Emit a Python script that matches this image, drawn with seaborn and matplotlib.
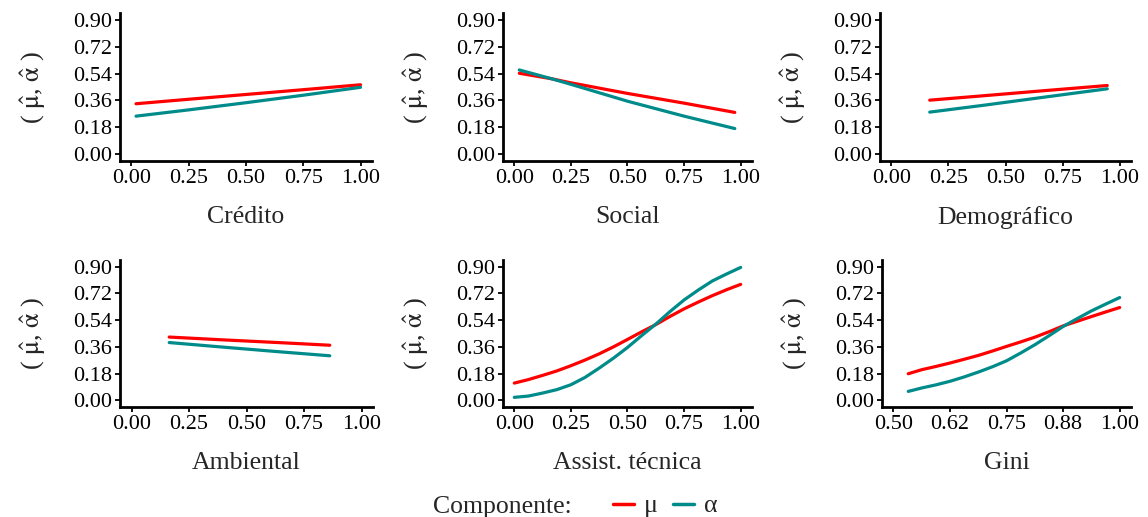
import numpy as np
import pandas as pd
import matplotlib
matplotlib.use("Agg")
import matplotlib.pyplot as plt
import seaborn as sns
from matplotlib.lines import Line2D

# ---- data ----
credito_x = [0.02, 0.25, 0.50, 0.75, 1.00]
credito_mu = [0.338, 0.368, 0.400, 0.432, 0.465]
credito_alpha = [0.255, 0.297, 0.345, 0.395, 0.448]

social_x = [0.022, 0.165, 0.25, 0.50, 0.75, 0.974]
social_mu = [0.542, 0.505, 0.478, 0.407, 0.342, 0.280]
social_alpha = [0.564, 0.505, 0.468, 0.355, 0.255, 0.172]

demog_x = [0.168, 0.40, 0.65, 0.946]
demog_mu = [0.362, 0.391, 0.423, 0.460]
demog_alpha = [0.282, 0.327, 0.378, 0.438]

amb_x = [0.164, 0.40, 0.65, 0.862]
amb_mu = [0.426, 0.407, 0.388, 0.371]
amb_alpha = [0.389, 0.358, 0.326, 0.300]

assist_x = [0.0, 0.063, 0.125, 0.188, 0.25, 0.312, 0.375, 0.438, 0.5,
            0.561, 0.625, 0.688, 0.75, 0.813, 0.875, 0.938, 1.0]
assist_mu = [0.116, 0.140, 0.168, 0.198, 0.233, 0.271, 0.313, 0.360, 0.410,
             0.460, 0.510, 0.565, 0.616, 0.662, 0.705, 0.745, 0.781]
assist_alpha = [0.020, 0.029, 0.049, 0.072, 0.105, 0.154, 0.217, 0.284, 0.356,
                0.434, 0.513, 0.598, 0.676, 0.743, 0.804, 0.851, 0.895]

gini_x = [0.533, 0.5625, 0.594, 0.625, 0.656, 0.6875, 0.719, 0.75,
          0.781, 0.8125, 0.844, 0.875, 0.906, 0.9375, 0.969, 1.0]
gini_mu = [0.179, 0.206, 0.228, 0.251, 0.276, 0.302, 0.332, 0.363,
           0.393, 0.425, 0.462, 0.501, 0.532, 0.564, 0.595, 0.625]
gini_alpha = [0.060, 0.083, 0.104, 0.128, 0.157, 0.190, 0.226, 0.266,
              0.318, 0.374, 0.435, 0.497, 0.550, 0.602, 0.648, 0.692]

panel_names = ["Crédito", "Social", "Demográfico", "Ambiental", "Assist. técnica", "Gini"]
panel_x = [credito_x, social_x, demog_x, amb_x, assist_x, gini_x]
panel_mu = [credito_mu, social_mu, demog_mu, amb_mu, assist_mu, gini_mu]
panel_alpha = [credito_alpha, social_alpha, demog_alpha, amb_alpha, assist_alpha, gini_alpha]

y_ticks = [0.00, 0.18, 0.36, 0.54, 0.72, 0.90]
y_ticklabels = ["0.00", "0.18", "0.36", "0.54", "0.72", "0.90"]
x_ticks = [0.00, 0.25, 0.50, 0.75, 1.00]
x_ticklabels = ["0.00", "0.25", "0.50", "0.75", "1.00"]
gini_ticks = [0.50, 0.625, 0.75, 0.875, 1.00]
gini_ticklabels = ["0.50", "0.62", "0.75", "0.88", "1.00"]

comp_labels = ["μ", "α"]
palette = {"μ": "#FF0000", "α": "#008B8B"}

# ---- style ----
sns.set_theme(style="ticks")
plt.rcParams["font.family"] = ["Liberation Serif", "DejaVu Serif"]
plt.rcParams["mathtext.fontset"] = "stix"

W, H = 1148, 517
fig = plt.figure(figsize=(W / 100, H / 100), dpi=100)

# axes boxes in pixels: (left, top, right, bottom)
boxes = [
    (120, 13, 372, 161), (503, 13, 752, 161), (880, 13, 1131, 161),
    (120, 260, 373, 407), (503, 260, 752, 407), (882, 260, 1131, 407),
]

TICK_FS = 16
LAB_FS = 18.5

for i, name in enumerate(panel_names):
    l, t, r, b = boxes[i]
    ax = fig.add_axes([l / W, 1 - b / H, (r - l) / W, (b - t) / H])
    n = len(panel_x[i])
    df = pd.DataFrame({
        "x": list(panel_x[i]) * 2,
        "y": list(panel_mu[i]) + list(panel_alpha[i]),
        "Componente": [comp_labels[0]] * n + [comp_labels[1]] * n,
    })
    sns.lineplot(data=df, x="x", y="y", hue="Componente", palette=palette,
                 hue_order=comp_labels, linewidth=2.3, legend=False, ax=ax)
    if name == "Gini":
        ax.set_xlim(0.475, 1.025)
        ax.set_xticks(gini_ticks)
        ax.set_xticklabels(gini_ticklabels)
    else:
        ax.set_xlim(-0.05, 1.05)
        ax.set_xticks(x_ticks)
        ax.set_xticklabels(x_ticklabels)
    ax.set_ylim(-0.045, 0.945)
    ax.set_yticks(y_ticks)
    ax.set_yticklabels(y_ticklabels)
    ax.set_xlabel(name, fontsize=LAB_FS, labelpad=13)
    ax.set_ylabel(r"( $\hat{\mathrm{\mu}}$, $\hat{\mathrm{\alpha}}$ )",
                  fontsize=19, labelpad=18)
    ax.tick_params(axis="both", labelsize=TICK_FS, length=3.5, width=1.3,
                   color="black", labelcolor="black", pad=2)
    for s in ["top", "right"]:
        ax.spines[s].set_visible(False)
    for s in ["left", "bottom"]:
        ax.spines[s].set_linewidth(2.0)
        ax.spines[s].set_color("black")
    ax.set_facecolor("white")
    ax.grid(False)

# legend
fig.text(433 / W, 1 - 507 / H, "Componente:", fontsize=LAB_FS, va="center", ha="left")
handles = [Line2D([0], [0], color=palette[c], lw=2.5) for c in comp_labels]
fig.legend(handles, comp_labels, loc="center left",
           bbox_to_anchor=(613 / W, 1 - 506 / H), ncol=2, frameon=False,
           handlelength=0.8, handletextpad=0.4, columnspacing=0.6,
           fontsize=LAB_FS, borderaxespad=0, borderpad=0)

fig.savefig("out.png", dpi=100, facecolor="white")
